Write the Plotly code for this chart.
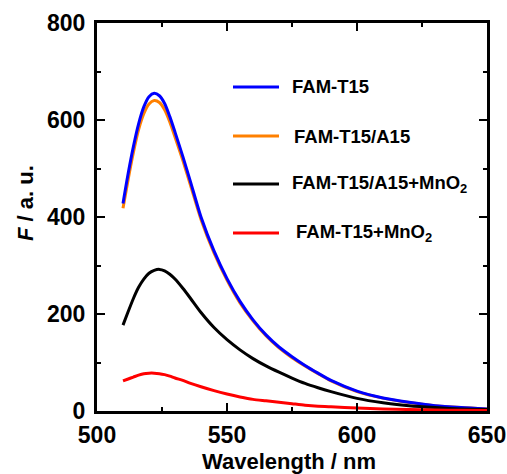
import plotly.graph_objects as go

# Data
wavelength = [510, 512, 514, 516, 518, 520, 522, 524, 526, 528, 530, 533, 536, 540, 545,
              550, 555, 560, 565, 570, 575, 580, 585, 590, 600, 610, 620, 630, 640, 650]
fam_t15 = [428, 490, 545, 592, 627, 648, 655, 650, 634, 607, 575, 525, 472, 400, 330,
           273, 226, 188, 157, 132, 112, 94, 78, 63, 41, 27, 18, 11, 7, 4]
fam_t15_a15 = [418, 478, 533, 580, 613, 633, 640, 636, 621, 596, 565, 517, 465, 395, 326,
               270, 223, 186, 155, 130, 110, 93, 77, 62, 40, 26.5, 17.5, 11, 7, 4]
fam_t15_a15_mno2 = [177, 205, 232, 255, 272, 284, 290, 292, 289, 282, 272, 253, 232, 203, 172,
                    147, 126, 108, 93, 80, 68, 57, 48, 40, 26, 17, 11, 7, 4, 3]
fam_t15_mno2 = [62, 66, 70, 74, 77, 78, 78, 77, 75, 72, 68, 63, 57, 50, 42,
                35, 29, 24, 21, 18, 15, 12, 10, 9, 6, 4, 3, 2, 1.5, 1]

series_names = ["FAM-T15", "FAM-T15/A15", "FAM-T15/A15+MnO<sub>2</sub>", "FAM-T15+MnO<sub>2</sub>"]
series_values = [fam_t15, fam_t15_a15, fam_t15_a15_mno2, fam_t15_mno2]
series_colors = ["#0000FF", "#FF8000", "#000000", "#FF0000"]
draw_order = [1, 0, 2, 3]

x_ticks = [500, 550, 600, 650]
y_ticks = [0, 200, 400, 600, 800]

fig = go.Figure()
for i in draw_order:
    fig.add_trace(go.Scatter(
        x=wavelength, y=series_values[i], mode="lines", name=series_names[i],
        line=dict(color=series_colors[i], width=3, shape="spline", smoothing=0.7),
        showlegend=False))

# plot area in pixels: left 97, right 487, top 23, bottom 411
L, R, T, B = 97, 487, 23, 411
def px(xp):
    return (xp - L) / (R - L)
def py(yp):
    return (B - yp) / (B - T)

FONT = "Arial, Liberation Sans"

# manual legend
leg_y = [87, 136, 184, 233]
leg_text_x = [290, 292, 290, 294]
for i in range(4):
    fig.add_shape(type="line", xref="paper", yref="paper",
                  x0=px(233), x1=px(279), y0=py(leg_y[i]), y1=py(leg_y[i]),
                  line=dict(color=series_colors[i], width=3))
    fig.add_annotation(xref="paper", yref="paper", x=px(leg_text_x[i]), y=py(leg_y[i]),
                       xanchor="left", yanchor="middle", showarrow=False,
                       text="<b>" + series_names[i] + "</b>",
                       font=dict(family=FONT, size=18.5, color="black"))

# y-axis title
fig.add_annotation(xref="paper", yref="paper", x=px(25), y=py(203),
                   xanchor="center", yanchor="middle", showarrow=False, textangle=-90,
                   text="<b><i>F</i> / a. u.</b>",
                   font=dict(family=FONT, size=22, color="black"))

# x-axis title
fig.add_annotation(xref="paper", yref="paper", x=px(289), y=py(461),
                   xanchor="center", yanchor="middle", showarrow=False,
                   text="<b>Wavelength / nm</b>",
                   font=dict(family=FONT, size=22, color="black"))

tickfont = dict(family=FONT, size=23, color="black", weight="bold")
axis_common = dict(showline=True, linewidth=3, linecolor="black", mirror="ticks",
                   ticks="inside", ticklen=8, tickwidth=2, tickcolor="black",
                   showgrid=False, zeroline=False, tickfont=tickfont, automargin=False)

fig.update_xaxes(range=[500, 650], tickmode="array", tickvals=x_ticks,
                 ticktext=[str(v) for v in x_ticks], ticklabelstandoff=1,
                 minor=dict(dtick=25, tick0=500, ticks="inside", ticklen=4, tickwidth=2,
                            tickcolor="black", showgrid=False),
                 **axis_common)
fig.update_yaxes(range=[0, 800], tickmode="array", tickvals=y_ticks,
                 ticktext=[str(v) for v in y_ticks], ticklabelstandoff=4,
                 minor=dict(dtick=100, tick0=0, ticks="inside", ticklen=4, tickwidth=2,
                            tickcolor="black", showgrid=False),
                 **axis_common)

fig.update_layout(width=507, height=474,
                  margin=dict(l=L, r=507 - R, t=T, b=474 - B),
                  paper_bgcolor="white", plot_bgcolor="white")

fig.write_html("out.html")
